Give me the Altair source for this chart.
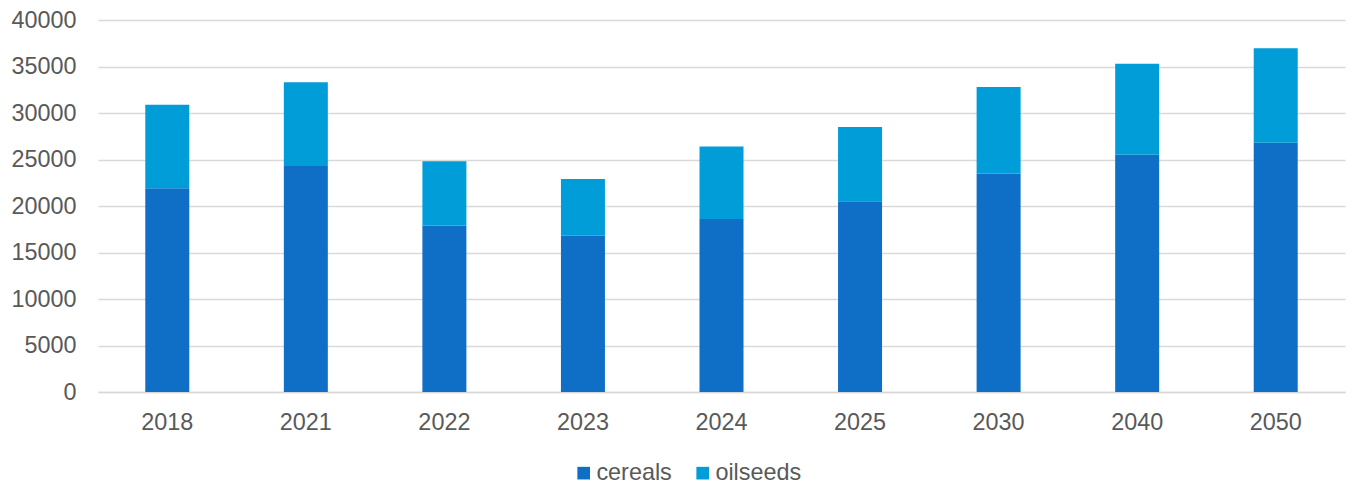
import altair as alt
import pandas as pd

# Production by year, split into cereals and oilseeds
years = ["2018", "2021", "2022", "2023", "2024", "2025", "2030", "2040", "2050"]
cereals = [21900, 24300, 17900, 16800, 18600, 20500, 23500, 25500, 26800]
oilseeds = [9000, 9000, 6900, 6100, 7800, 8000, 9300, 9800, 10150]

series = ["cereals", "oilseeds"]
colors = ["#0F6FC6", "#009DD9"]

rows = []
for i, y in enumerate(years):
    rows.append({"year": y, "crop": "cereals", "value": cereals[i], "order": 0})
    rows.append({"year": y, "crop": "oilseeds", "value": oilseeds[i], "order": 1})
df = pd.DataFrame(rows)

FONT = "Liberation Sans"
SIZE = 23.4
TEXT = "#595959"
GRID = "#D9D9D9"

chart = (
    alt.Chart(df)
    .mark_bar(size=44)
    .encode(
        x=alt.X(
            "year:N",
            sort=years,
            title=None,
            scale=alt.Scale(paddingInner=0, paddingOuter=0),
            axis=alt.Axis(
                labelAngle=0,
                labelFont=FONT,
                labelFontSize=SIZE,
                labelColor=TEXT,
                labelPadding=19,
                ticks=False,
                domainColor=GRID,
                domainWidth=1.3,
                grid=False,
            ),
        ),
        y=alt.Y(
            "value:Q",
            stack="zero",
            title=None,
            scale=alt.Scale(domain=[0, 40000], nice=False),
            axis=alt.Axis(
                values=list(range(0, 40001, 5000)),
                labelFont=FONT,
                labelFontSize=SIZE,
                labelColor=TEXT,
                labelPadding=22,
                ticks=False,
                domain=False,
                gridColor=GRID,
                gridWidth=1.3,
                format="d",
            ),
        ),
        color=alt.Color(
            "crop:N",
            scale=alt.Scale(domain=series, range=colors),
            legend=alt.Legend(
                title=None,
                orient="none",
                direction="horizontal",
                legendX=474,
                legendY=441,
                symbolType="square",
                symbolSize=160,
                symbolStrokeWidth=0,
                labelFont=FONT,
                labelFontSize=SIZE,
                labelColor=TEXT,
                labelOffset=1,
                columnPadding=19,
            ),
        ),
        order=alt.Order("order:Q", sort="ascending"),
    )
    .properties(
        width=1247,
        height=372,
        padding={"left": 98, "top": 20, "right": 3, "bottom": 93},
        autosize=alt.AutoSizeParams(type="none"),
        background="white",
    )
    .configure_view(stroke="transparent", strokeWidth=0)
)

chart.save("out.html", embed_options={"renderer": "svg", "actions": False})
